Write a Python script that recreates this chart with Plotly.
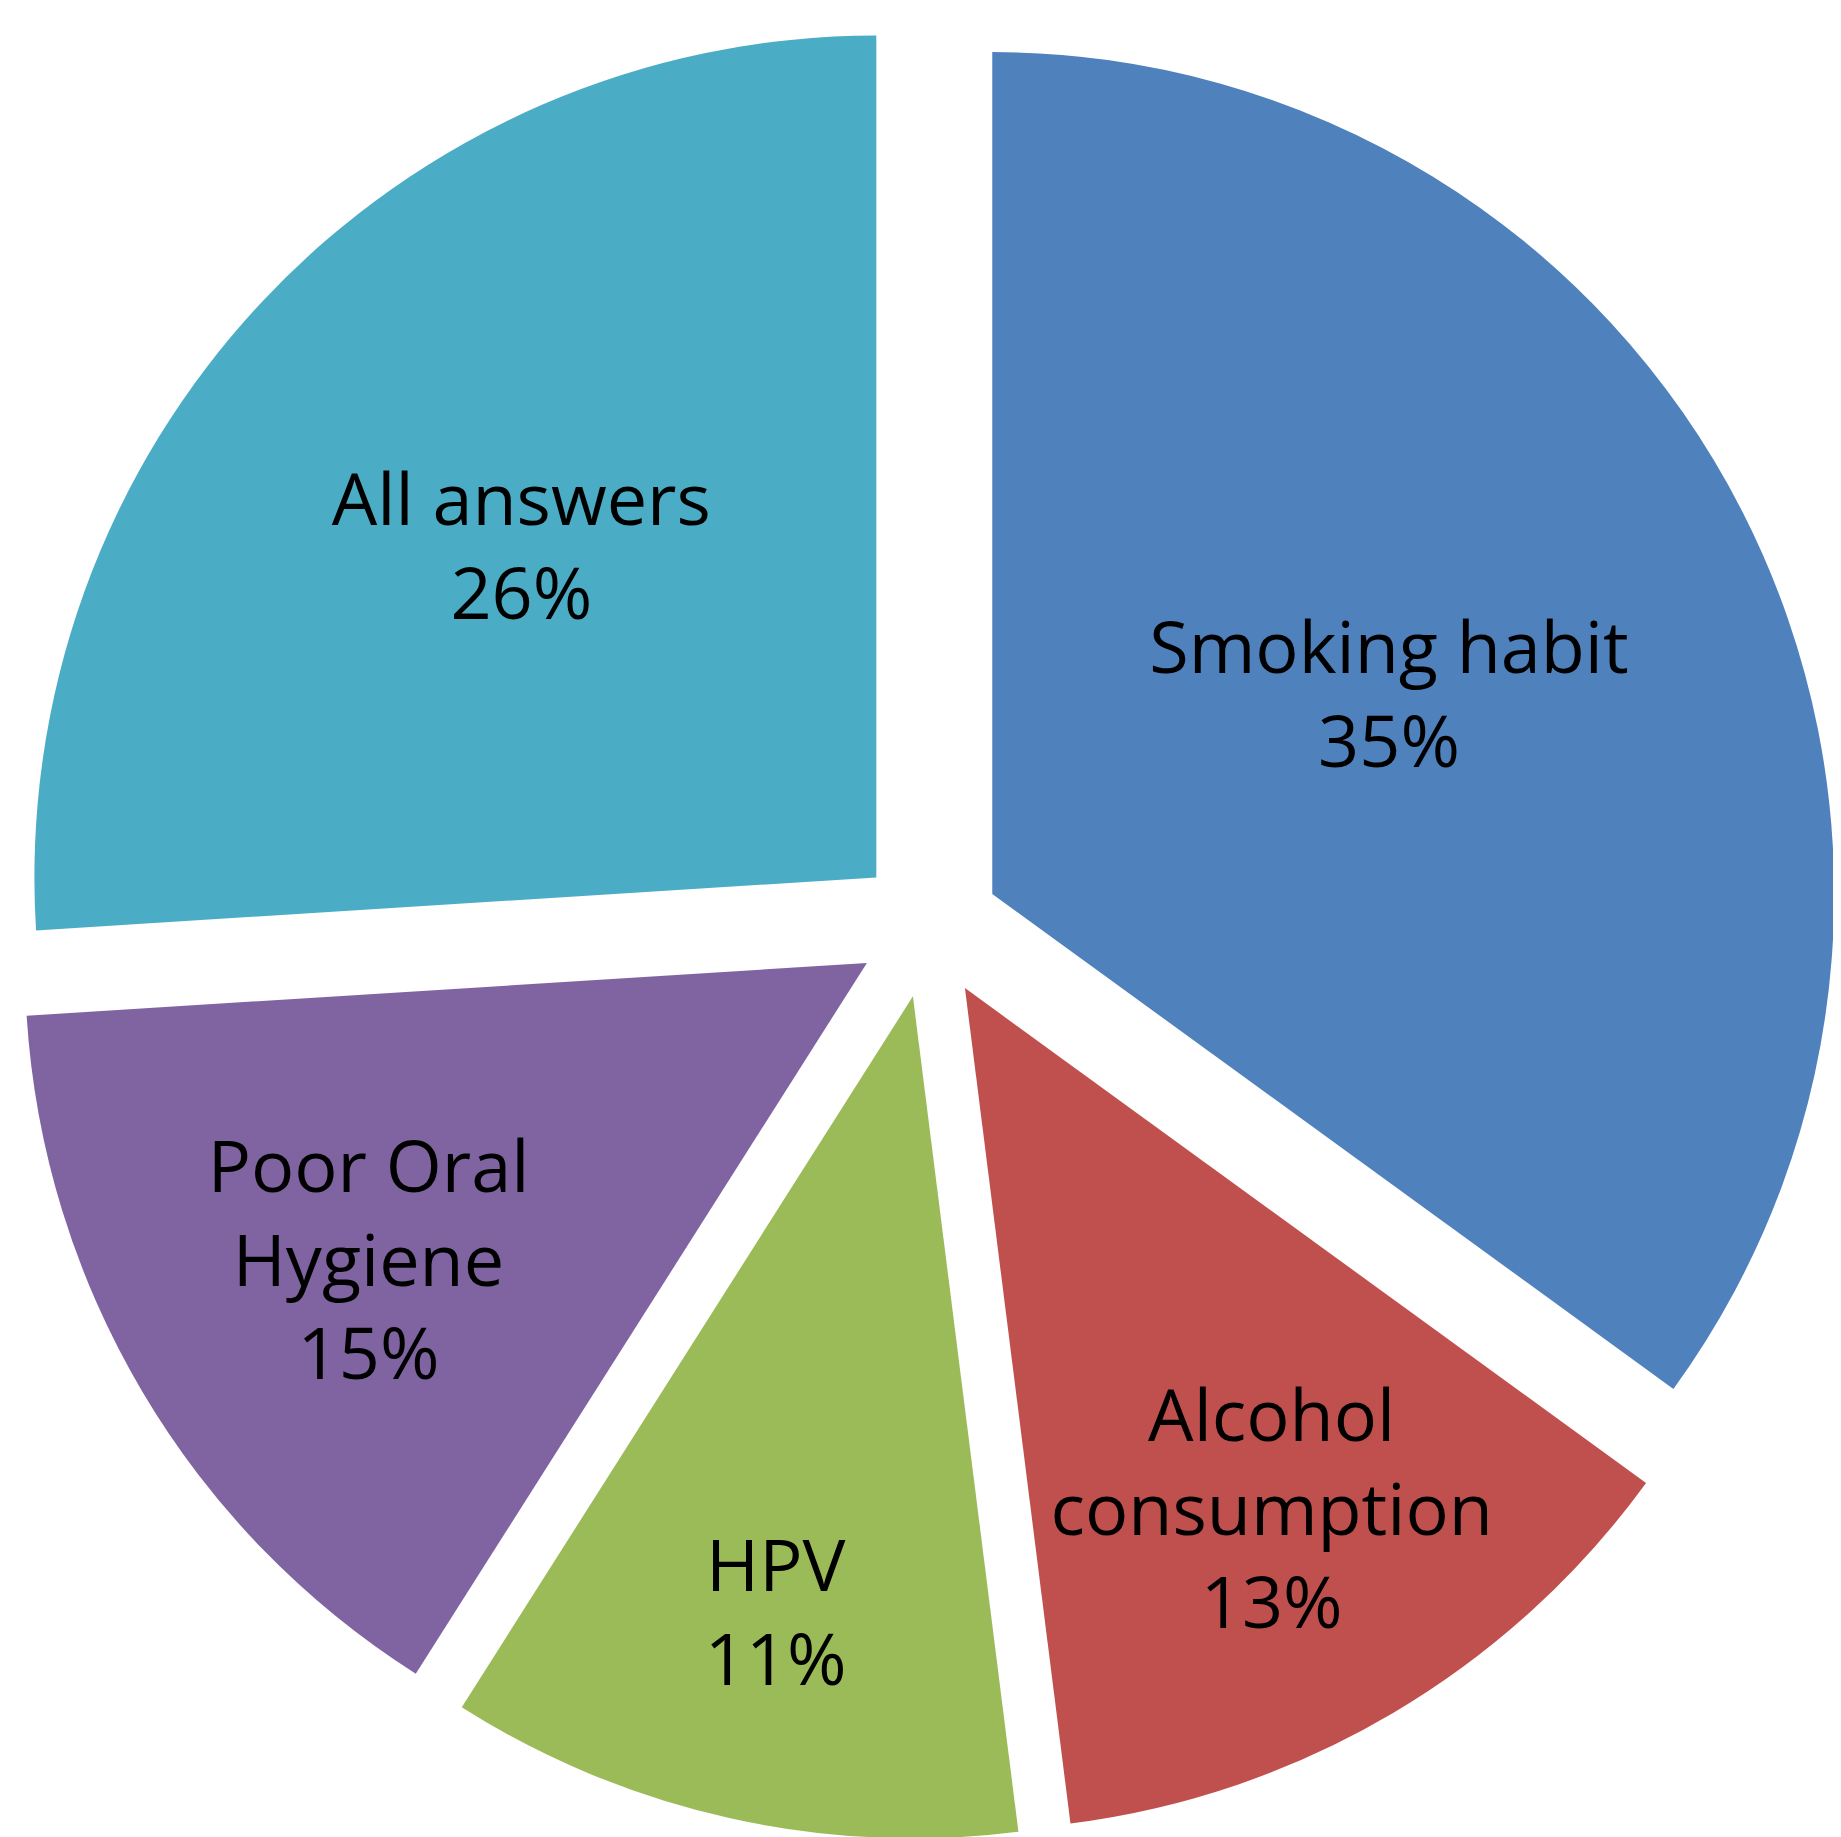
import plotly.graph_objects as go

labels = ["Smoking habit", "Alcohol<br>consumption", "HPV", "Poor Oral<br>Hygiene", "All answers"]
values = [35, 13, 11, 15, 26]
colors = ["#4F81BD", "#C0504D", "#9BBB59", "#8064A2", "#4BACC6"]

fig = go.Figure(go.Pie(
    labels=labels, values=values, sort=False, direction="clockwise", rotation=0,
    marker=dict(colors=colors, line=dict(width=0)),
    pull=[0.085]*5,
    textinfo="label+percent", textposition="inside", insidetextorientation="horizontal",
    texttemplate="%{label}<br>%{percent:.0%}",
    textfont=dict(family="Open Sans", size=72, color="black"),
    showlegend=False,
))
fig.update_layout(width=1841, height=1837, margin=dict(l=5, r=5, t=5, b=5),
                  paper_bgcolor="white", uniformtext=dict(minsize=72, mode="show"))
fig.write_html("out.html")
